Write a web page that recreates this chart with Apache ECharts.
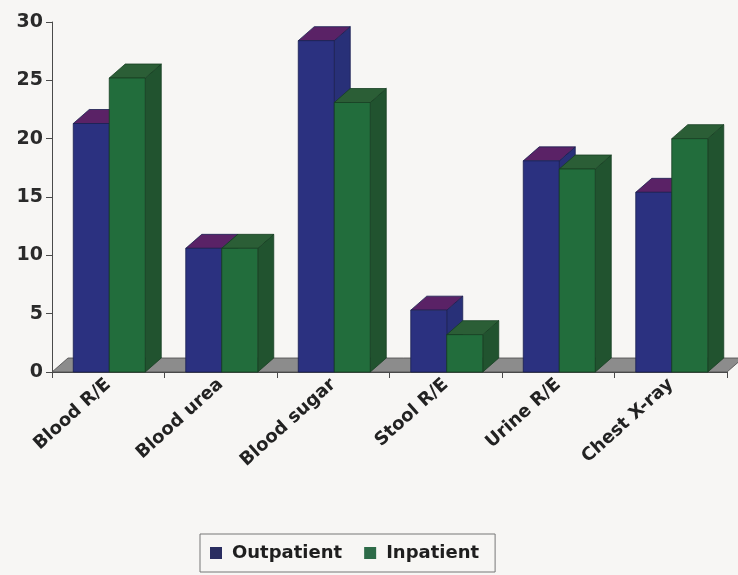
<!DOCTYPE html>
<html>
<head>
<meta charset="utf-8">
<script src="https://cdn.jsdelivr.net/npm/echarts@6/dist/echarts.min.js"></script>
<style>
  html, body { margin: 0; padding: 0; background: #f7f6f4; }
  #chart { width: 738px; height: 575px; }
</style>
</head>
<body>
<div id="chart"></div>
<script>
// Investigations requested, by patient group
const categories = ['Blood R/E', 'Blood urea', 'Blood sugar', 'Stool R/E', 'Urine R/E', 'Chest X-ray'];
const outpatient = [21.3, 10.6, 28.4, 5.3, 18.1, 15.4];
const inpatient = [25.2, 10.6, 23.1, 3.2, 17.4, 20.0];
const seriesNames = ['Outpatient', 'Inpatient'];
const yTicks = { min: 0, max: 30, interval: 5 };

// Depth of the pseudo-3D extrusion, in pixels
const DX = 16, DY = 14;
const BAR_RATIO = 0.32;

const palettes = [
  { front: '#2b3180', top: '#5a2266', side: '#283078', edge: '#1b1f50', legend: '#2a2d60' },
  { front: '#226d3c', top: '#2b5e36', side: '#21532f', edge: '#163f22', legend: '#2d6b48' }
];

function barRenderer(idx) {
  const pal = palettes[idx];
  return function (params, api) {
    const cat = api.value(0), val = api.value(1);
    const base = api.coord([cat, 0]);
    const top = api.coord([cat, val]);
    const band = api.size([1, 0])[0];
    const w = band * BAR_RATIO;
    const x0 = base[0] - w + idx * w + 1;
    const x1 = x0 + w;
    const yb = base[1], yt = top[1];
    const stroke = { stroke: pal.edge, lineWidth: 0.8 };
    return {
      type: 'group',
      children: [
        { type: 'polygon', shape: { points: [[x1, yt], [x1 + DX, yt - DY], [x1 + DX, yb - DY], [x1, yb]] },
          style: Object.assign({ fill: pal.side }, stroke) },
        { type: 'polygon', shape: { points: [[x0, yt], [x0 + DX, yt - DY], [x1 + DX, yt - DY], [x1, yt]] },
          style: Object.assign({ fill: pal.top }, stroke) },
        { type: 'polygon', shape: { points: [[x0, yt], [x1, yt], [x1, yb], [x0, yb]] },
          style: Object.assign({ fill: pal.front }, stroke) }
      ]
    };
  };
}

// Grey floor under the bars
function floorRenderer(params, api) {
  const cs = params.coordSys;
  const yb = cs.y + cs.height;
  const xl = cs.x, xr = cs.x + cs.width;
  return {
    type: 'polygon',
    shape: { points: [[xl, yb], [xl + DX, yb - DY], [xr + DX, yb - DY], [xr, yb]] },
    style: { fill: '#8c8c8c', stroke: '#4a4a4a', lineWidth: 0.8 }
  };
}

const chart = echarts.init(document.getElementById('chart'));
chart.setOption({
  backgroundColor: '#f7f6f4',
  animation: false,
  textStyle: { fontFamily: 'DejaVu Sans, sans-serif' },
  grid: { left: 52, right: 11, top: 22, bottom: 203 },
  legend: {
    bottom: 3,
    left: 200,
    data: seriesNames,
    icon: 'rect',
    itemWidth: 12,
    itemHeight: 12,
    itemGap: 22,
    padding: [10, 16, 10, 10],
    borderColor: '#777',
    borderWidth: 1,
    textStyle: { fontSize: 18, fontWeight: 'bold', color: '#1e1e1e', padding: [0, 0, 0, 5] }
  },
  xAxis: {
    type: 'category',
    data: categories,
    axisLine: { lineStyle: { color: '#4a4a4a', width: 1 } },
    axisTick: { show: true, interval: 0, length: 6, lineStyle: { color: '#4a4a4a' } },
    axisLabel: { rotate: 42, interval: 0, fontSize: 18, fontWeight: 'bold', color: '#222', margin: 10 }
  },
  yAxis: {
    type: 'value',
    min: yTicks.min, max: yTicks.max, interval: yTicks.interval,
    splitLine: { show: false },
    axisLine: { show: true, lineStyle: { color: '#4a4a4a', width: 1 } },
    axisTick: { show: true, length: 6, lineStyle: { color: '#4a4a4a' } },
    axisLabel: { fontSize: 19, fontWeight: 'bold', color: '#2a2a2a', margin: 9 }
  },
  series: [
    { type: 'custom', name: '__floor', renderItem: floorRenderer, data: [[0, 0]], silent: true, z: 1 },
    { type: 'custom', name: seriesNames[0], renderItem: barRenderer(0), itemStyle: { color: palettes[0].legend },
      data: outpatient.map((v, i) => [i, v]), encode: { x: 0, y: 1 }, z: 2 },
    { type: 'custom', name: seriesNames[1], renderItem: barRenderer(1), itemStyle: { color: palettes[1].legend },
      data: inpatient.map((v, i) => [i, v]), encode: { x: 0, y: 1 }, z: 3 }
  ]
});
</script>
</body>
</html>
